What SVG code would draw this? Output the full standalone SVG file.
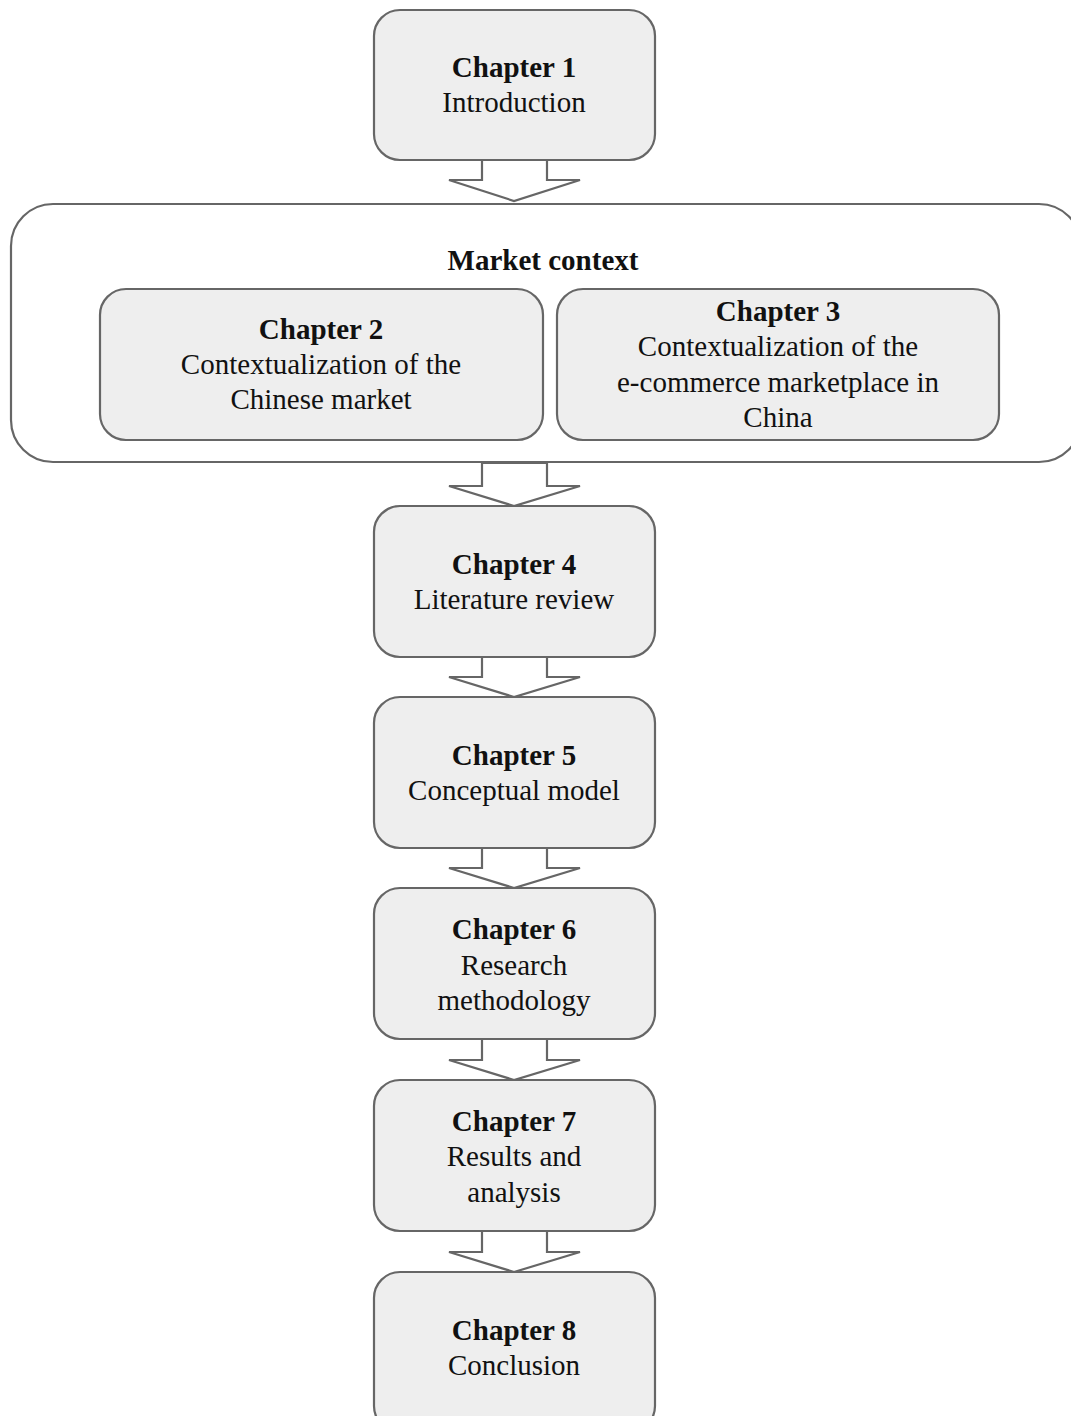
<svg xmlns="http://www.w3.org/2000/svg" width="1071" height="1416" viewBox="0 0 1071 1416">
<style>
.box{fill:#eeeeee;stroke:#666;stroke-width:2.2}
.outer{fill:#fff;stroke:#666;stroke-width:2.2}
.arr{fill:#fff;stroke:#666;stroke-width:2.2;stroke-linejoin:miter}
text{font-family:"Liberation Serif",serif;font-size:29px;fill:#111;text-anchor:middle}
.b{font-weight:bold}
</style>
<rect width="1071" height="1416" fill="#fff"/>
<g id="market-context">
<rect class="outer" x="11" y="204" width="1070" height="258" rx="42"/>
<text class="b" x="543" y="270">Market context</text>
</g>
<g id="connectors">
<polygon class="arr" points="482,160 482,180 449,180 514,201 580,180 547,180 547,160"/>
<polygon class="arr" points="482,463 482,486 449,486 514,506 580,486 547,486 547,463"/>
<polygon class="arr" points="482,657 482,677 449,677 514,697 580,677 547,677 547,657"/>
<polygon class="arr" points="482,848 482,868 449,868 514,888 580,868 547,868 547,848"/>
<polygon class="arr" points="482,1039 482,1060 449,1060 514,1080 580,1060 547,1060 547,1039"/>
<polygon class="arr" points="482,1231 482,1252 449,1252 514,1272 580,1252 547,1252 547,1231"/>
</g>
<g id="ch1">
<rect class="box" x="374" y="10" width="281" height="150" rx="26"/>
<text class="b" x="514" y="77">Chapter 1</text>
<text x="514" y="112">Introduction</text>
</g>
<g id="ch2">
<rect class="box" x="100" y="289" width="443" height="151" rx="26"/>
<text class="b" x="321" y="339">Chapter 2</text>
<text x="321" y="374">Contextualization of the</text>
<text x="321" y="409">Chinese market</text>
</g>
<g id="ch3">
<rect class="box" x="557" y="289" width="442" height="151" rx="26"/>
<text class="b" x="778" y="321">Chapter 3</text>
<text x="778" y="356">Contextualization of the</text>
<text x="778" y="392">e-commerce marketplace in</text>
<text x="778" y="427">China</text>
</g>
<g id="ch4">
<rect class="box" x="374" y="506" width="281" height="151" rx="26"/>
<text class="b" x="514" y="574">Chapter 4</text>
<text x="514" y="609">Literature review</text>
</g>
<g id="ch5">
<rect class="box" x="374" y="697" width="281" height="151" rx="26"/>
<text class="b" x="514" y="765">Chapter 5</text>
<text x="514" y="800">Conceptual model</text>
</g>
<g id="ch6">
<rect class="box" x="374" y="888" width="281" height="151" rx="26"/>
<text class="b" x="514" y="939">Chapter 6</text>
<text x="514" y="975">Research</text>
<text x="514" y="1010">methodology</text>
</g>
<g id="ch7">
<rect class="box" x="374" y="1080" width="281" height="151" rx="26"/>
<text class="b" x="514" y="1131">Chapter 7</text>
<text x="514" y="1166">Results and</text>
<text x="514" y="1202">analysis</text>
</g>
<g id="ch8">
<rect class="box" x="374" y="1272" width="281" height="160" rx="26"/>
<text class="b" x="514" y="1340">Chapter 8</text>
<text x="514" y="1375">Conclusion</text>
</g>
</svg>
